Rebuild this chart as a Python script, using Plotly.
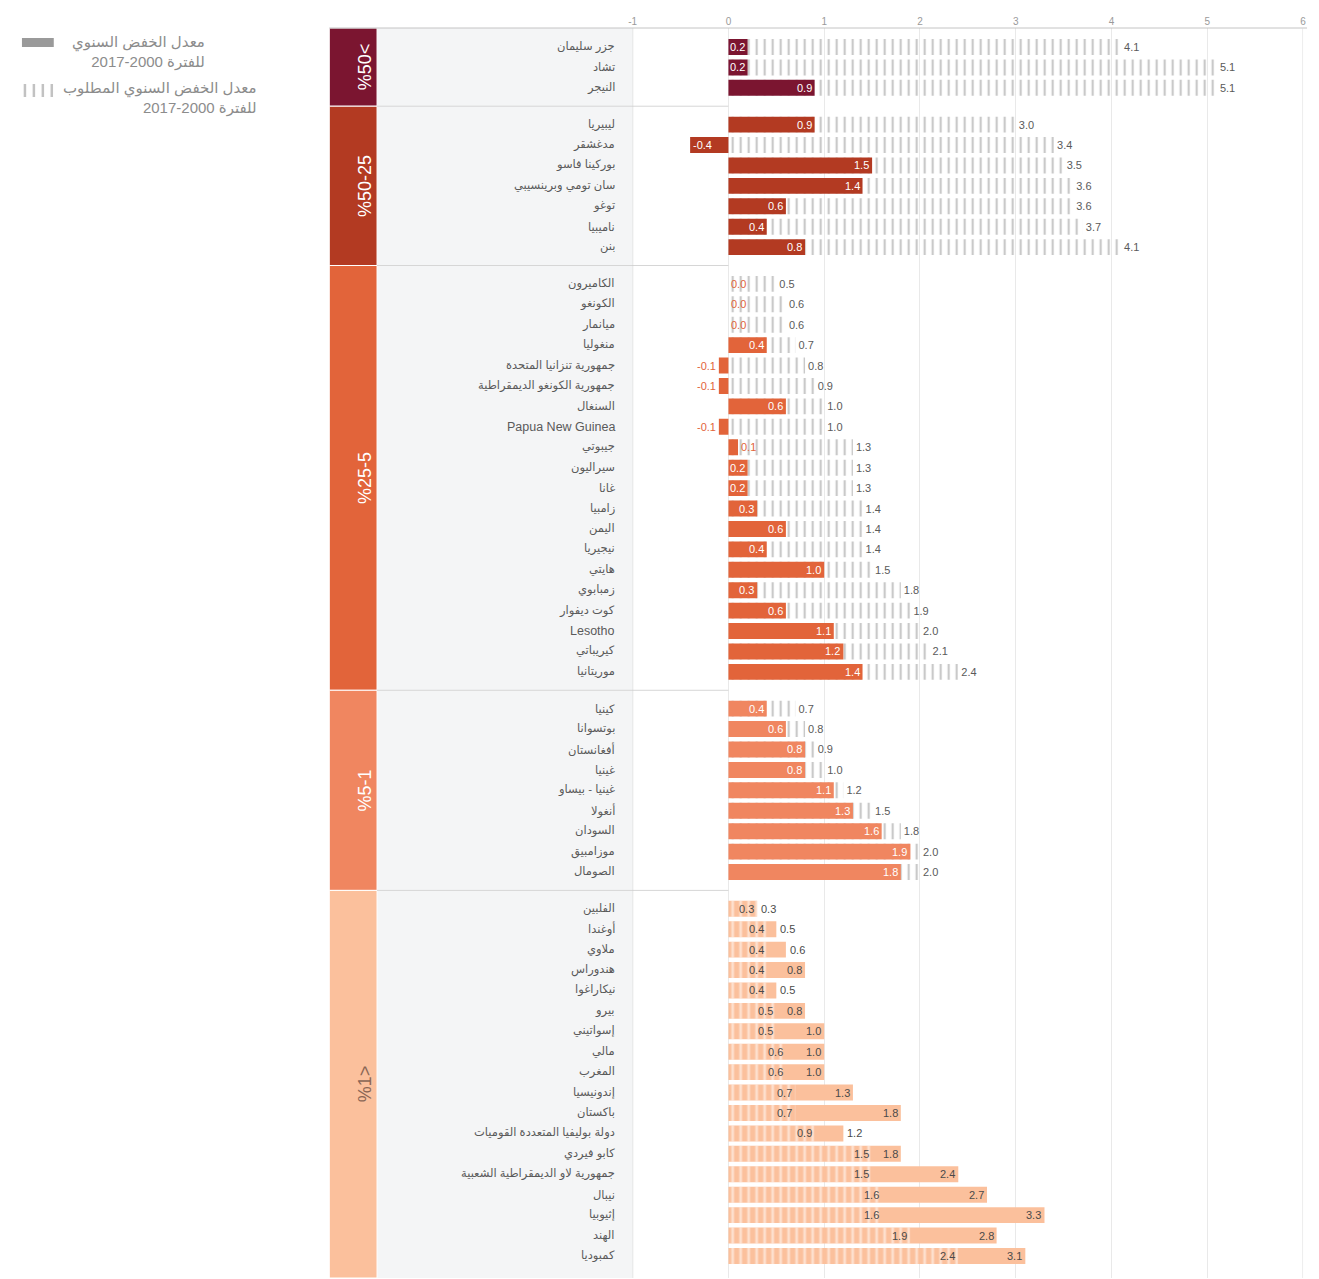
import plotly.graph_objects as go

# ---- data -------------------------------------------------------------
group_labels = ["%50<", "%50-25", "%25-5", "%5-1", "%1>"]

countries_g1 = ["جزر سليمان", "تشاد", "النيجر"]
actual_g1 = [0.2, 0.2, 0.9]
required_g1 = [4.1, 5.1, 5.1]

countries_g2 = ["ليبيريا", "مدغشقر", "بوركينا فاسو", "سان تومي وبرينسيبي", "توغو", "ناميبيا", "بنن"]
actual_g2 = [0.9, -0.4, 1.5, 1.4, 0.6, 0.4, 0.8]
required_g2 = [3.0, 3.4, 3.5, 3.6, 3.6, 3.7, 4.1]

countries_g3 = ["الكاميرون", "الكونغو", "ميانمار", "منغوليا", "جمهورية تنزانيا المتحدة",
                "جمهورية الكونغو الديمقراطية", "السنغال", "Papua New Guinea", "جيبوتي", "سيراليون",
                "غانا", "زامبيا", "اليمن", "نيجيريا", "هايتي", "زمبابوي", "كوت ديفوار", "Lesotho",
                "كيريباتي", "موريتانيا"]
actual_g3 = [0.0, 0.0, 0.0, 0.4, -0.1, -0.1, 0.6, -0.1, 0.1, 0.2, 0.2, 0.3, 0.6, 0.4, 1.0, 0.3, 0.6, 1.1, 1.2, 1.4]
required_g3 = [0.5, 0.6, 0.6, 0.7, 0.8, 0.9, 1.0, 1.0, 1.3, 1.3, 1.3, 1.4, 1.4, 1.4, 1.5, 1.8, 1.9, 2.0, 2.1, 2.4]

countries_g4 = ["كينيا", "بوتسوانا", "أفغانستان", "غينيا", "غينيا - بيساو", "أنغولا", "السودان", "موزامبيق", "الصومال"]
actual_g4 = [0.4, 0.6, 0.8, 0.8, 1.1, 1.3, 1.6, 1.9, 1.8]
required_g4 = [0.7, 0.8, 0.9, 1.0, 1.2, 1.5, 1.8, 2.0, 2.0]

countries_g5 = ["الفلبين", "أوغندا", "ملاوي", "هندوراس", "نيكاراغوا", "بيرو", "إسواتيني", "مالي", "المغرب",
                "إندونيسيا", "باكستان", "دولة بوليفيا المتعددة القوميات", "كابو فيردي",
                "جمهورية لاو الديمقراطية الشعبية", "نيبال", "إثيوبيا", "الهند", "كمبوديا"]
actual_g5 = [0.3, 0.5, 0.6, 0.8, 0.5, 0.8, 1.0, 1.0, 1.0, 1.3, 1.8, 1.2, 1.8, 2.4, 2.7, 3.3, 2.8, 3.1]
required_g5 = [0.3, 0.4, 0.4, 0.4, 0.4, 0.5, 0.5, 0.6, 0.6, 0.7, 0.7, 0.9, 1.5, 1.5, 1.6, 1.6, 1.9, 2.4]

x_ticks = [-1, 0, 1, 2, 3, 4, 5, 6]

legend_actual = "معدل الخفض السنوي<br>2017-2000 للفترة"
legend_required = "معدل الخفض السنوي المطلوب<br>2017-2000 للفترة"

# ---- styling ----------------------------------------------------------
group_colors = ["#7b1530", "#b33a22", "#e2643a", "#f08660", "#fbc09c"]
group_text_colors = ["white", "white", "white", "white", "#8a6655"]
stripe_color = "#c9c9c9"
label_color = "#5a5a5a"
OFF = 8                     # page body margin
W, H = 1319 - OFF, 1279 - OFF
T, B = 28 - OFF, 1
GAP = 0.8

groups = [
    (countries_g1, actual_g1, required_g1),
    (countries_g2, actual_g2, required_g2),
    (countries_g3, actual_g3, required_g3),
    (countries_g4, actual_g4, required_g4),
    (countries_g5, actual_g5, required_g5),
]

# row positions with a gap between groups
positions = []
y = 0.0
for names, _, _ in groups:
    rows = []
    for _ in names:
        rows.append(y)
        y += 1
    positions.append(rows)
    y += GAP
y_top, y_bottom = -0.93, positions[-1][-1] + 1.08


def px(p):
    return (p - OFF) / W


def py(p):
    return 1 - (p - OFF - T) / (H - T - B)


fig = go.Figure()
annotations = []

# groups 1-4: striped required bar behind, solid actual bar in front
req_y, req_x, act_y, act_x, act_col = [], [], [], [], []
for g in range(4):
    names, act, req = groups[g]
    req_y += positions[g]
    req_x += req
    act_y += positions[g]
    act_x += act
    act_col += [group_colors[g]] * len(act)

fig.add_trace(go.Bar(
    y=req_y, x=req_x, orientation="h", width=0.78,
    marker=dict(color="rgba(0,0,0,0)", line_width=0,
                pattern=dict(shape="|", fgcolor=stripe_color, bgcolor="rgba(0,0,0,0)",
                             size=8, solidity=0.28, fillmode="replace")),
    text=[f"{v:.1f}" for v in req_x], textposition="outside",
    textfont=dict(size=11, color=label_color), cliponaxis=False,
    hoverinfo="skip",
))

fig.add_trace(go.Bar(
    y=act_y, x=act_x, orientation="h", width=0.78,
    marker=dict(color=act_col, line_width=0),
    hoverinfo="skip",
))

for v, yy, col in zip(act_x, act_y, act_col):
    if abs(v) >= 0.2:
        anchor, shift, fcol = ("right", -1, "white") if v > 0 else ("left", 1, "white")
    else:
        anchor, shift, fcol = ("left", 1, col) if v >= 0 else ("right", -1, col)
    annotations.append(dict(xref="x", yref="y", x=v, y=yy, text=f"{v:.1f}", xanchor=anchor,
                            xshift=shift, showarrow=False, font=dict(size=11, color=fcol)))

# group 5: solid actual bar behind, white-striped required bar on top
fig.add_trace(go.Bar(
    y=positions[4], x=actual_g5, orientation="h", width=0.78,
    marker=dict(color=group_colors[4], line_width=0),
    hoverinfo="skip",
))
fig.add_trace(go.Bar(
    y=positions[4], x=required_g5, orientation="h", width=0.78,
    marker=dict(color="rgba(0,0,0,0)", line_width=0,
                pattern=dict(shape="|", fgcolor="white", size=8, solidity=0.35, fillmode="overlay")),
    hoverinfo="skip",
))
for a, r, yy in zip(actual_g5, required_g5, positions[4]):
    annotations.append(dict(xref="x", yref="y", x=r, y=yy, text=f"{r:.1f}", xanchor="right",
                            xshift=-1, showarrow=False, font=dict(size=11, color="#4a4a4a")))
    if a - r >= 0.3:
        anchor, shift = "right", -1
    else:
        anchor, shift = "left", 2
    annotations.append(dict(xref="x", yref="y", x=a, y=yy, text=f"{a:.1f}", xanchor=anchor,
                            xshift=shift, showarrow=False, font=dict(size=11, color="#4a4a4a")))

shapes = []

# label column background
shapes.append(dict(type="rect", xref="paper", yref="paper", x0=px(375), x1=px(632), y0=0, y1=1,
                   fillcolor="#f4f5f6", line_width=0, layer="below"))

# group bands, labels and separators
x_zero = px(632) + (0 - (-1)) / 7 * (px(1306) - px(632))
for g, (names, _, _) in enumerate(groups):
    top = y_top if g == 0 else (positions[g - 1][-1] + positions[g][0]) / 2
    bot = y_bottom if g == len(groups) - 1 else (positions[g][-1] + positions[g + 1][0]) / 2
    shapes.append(dict(type="rect", xref="paper", yref="y", x0=px(327), x1=px(375), y0=top, y1=bot,
                       fillcolor=group_colors[g], line=dict(color="white", width=1), layer="below"))
    if g > 0:
        shapes.append(dict(type="line", xref="paper", yref="y", x0=px(375), x1=x_zero, y0=top, y1=top,
                           line=dict(color="#d6d6d6", width=1)))
    annotations.append(dict(xref="paper", yref="y", x=px(351), y=(top + bot) / 2, text=group_labels[g],
                            textangle=-90, showarrow=False,
                            font=dict(size=18, color=group_text_colors[g])))
    for name, yy in zip(names, positions[g]):
        annotations.append(dict(xref="paper", yref="y", x=px(616), y=yy, text=name, xanchor="right",
                                showarrow=False,
                                font=dict(size=12.5 if name.isascii() else 11.5, color=label_color)))

# top axis line across the whole table and borders
shapes.append(dict(type="line", xref="paper", yref="paper", x0=px(327), x1=px(1310), y0=1, y1=1,
                   line=dict(color="#c4c4c4", width=1)))
shapes.append(dict(type="line", xref="x", yref="paper", x0=-1, x1=-1, y0=0, y1=1,
                   line=dict(color="#c8c8c8", width=1)))
shapes.append(dict(type="line", xref="x", yref="paper", x0=6, x1=6, y0=0, y1=1,
                   line=dict(color="#d8d8d8", width=1)))

# legend
shapes.append(dict(type="rect", xref="paper", yref="paper", x0=px(18), x1=px(50), y0=py(47), y1=py(38),
                   fillcolor="#9a9a9a", line_width=0))
for k in range(4):
    xx = px(21 + k * 9)
    shapes.append(dict(type="line", xref="paper", yref="paper", x0=xx, x1=xx, y0=py(97), y1=py(84),
                       line=dict(color="#c2c2c2", width=2.5)))
annotations.append(dict(xref="paper", yref="paper", x=px(204), y=py(31), text=legend_actual,
                        xanchor="right", yanchor="top", align="right", showarrow=False,
                        font=dict(size=15, color="#8c8c8c")))
annotations.append(dict(xref="paper", yref="paper", x=px(256), y=py(77), text=legend_required,
                        xanchor="right", yanchor="top", align="right", showarrow=False,
                        font=dict(size=15, color="#8c8c8c")))

fig.update_xaxes(
    side="top", range=[-1, 6], tickvals=x_ticks, ticktext=[str(t) for t in x_ticks],
    tickfont=dict(size=10, color="#9a9a9a"), showgrid=True, gridcolor="#e9e9e9", gridwidth=1,
    zeroline=False, showline=False, domain=[px(632), px(1306)], ticks="",
)
fig.update_yaxes(range=[y_bottom, y_top], visible=False, showgrid=False, zeroline=False)

fig.update_layout(
    barmode="overlay",
    width=W, height=H,
    margin=dict(l=0, r=0, t=T, b=B),
    showlegend=False,
    plot_bgcolor="white",
    paper_bgcolor="white",
    font=dict(family="Liberation Sans, Arial, DejaVu Sans, sans-serif", size=11, color=label_color),
    shapes=shapes,
    annotations=annotations,
)

fig.write_html("out.html")
